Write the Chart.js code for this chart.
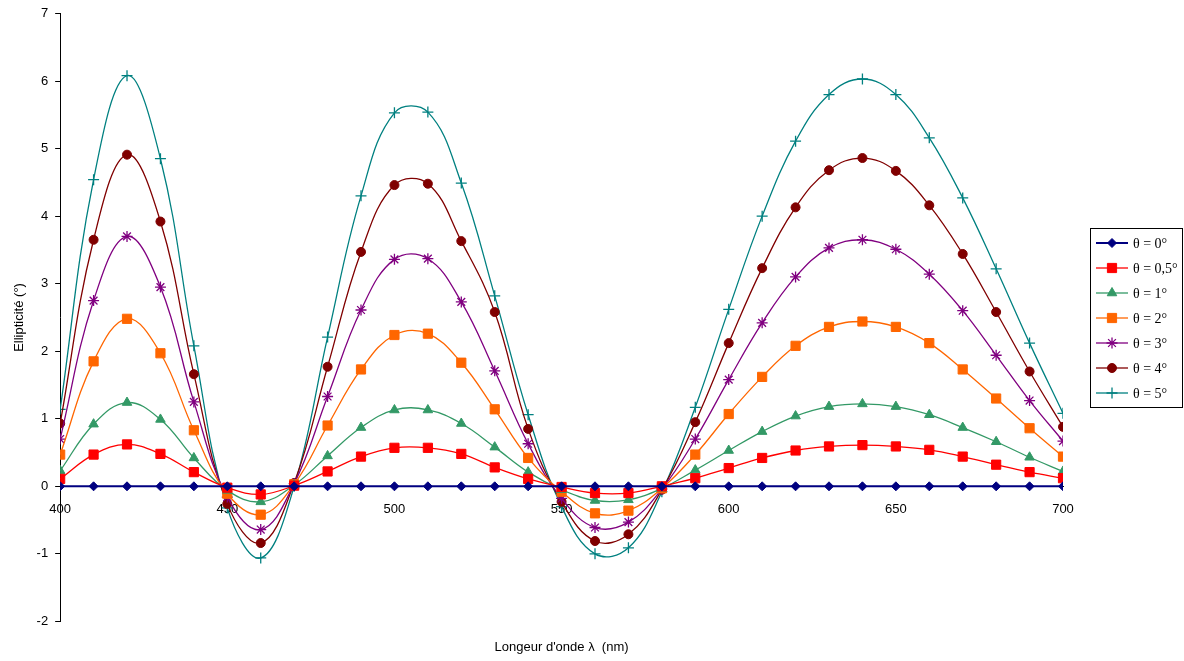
<!DOCTYPE html>
<html>
<head>
<meta charset="utf-8">
<script src="https://cdn.jsdelivr.net/npm/chart.js@4.4.1/dist/chart.umd.min.js"></script>
<style>
  html, body { margin: 0; padding: 0; background: #fff; }
  #wrap { width: 1184px; height: 661px; }
</style>
</head>
<body>
<div id="wrap"><canvas id="chartEllipticite" width="1184" height="661"></canvas></div>
<script>
// Longueurs d'onde (nm)
const longueurs = [400, 410, 420, 430, 440, 450, 460, 470, 480, 490, 500, 510, 520, 530, 540, 550,
    560, 570, 580, 590, 600, 610, 620, 630, 640, 650, 660, 670, 680, 690, 700];

// Ellipticité (°) pour chaque angle theta
const ellipTheta0 = [0, 0, 0, 0, 0, 0, 0, 0, 0, 0, 0, 0, 0, 0, 0, 0,
    0, 0, 0, 0, 0, 0, 0, 0, 0, 0, 0, 0, 0, 0, 0];
const ellipTheta05 = [0.11, 0.47, 0.62, 0.48, 0.21, -0.02, -0.12, 0.01, 0.22, 0.44, 0.57, 0.57, 0.48, 0.28, 0.11, -0.01,
    -0.10, -0.10, 0.00, 0.12, 0.27, 0.42, 0.53, 0.59, 0.61, 0.59, 0.54, 0.44, 0.32, 0.21, 0.12];
const ellipTheta1 = [0.23, 0.92, 1.24, 0.99, 0.42, -0.06, -0.23, 0.02, 0.45, 0.87, 1.13, 1.13, 0.93, 0.58, 0.21, -0.05,
    -0.21, -0.20, -0.03, 0.24, 0.53, 0.81, 1.04, 1.18, 1.22, 1.18, 1.06, 0.87, 0.66, 0.43, 0.22];
const ellipTheta2 = [0.47, 1.85, 2.48, 1.97, 0.83, -0.11, -0.42, 0.03, 0.90, 1.73, 2.24, 2.26, 1.83, 1.14, 0.42, -0.08,
    -0.40, -0.36, -0.03, 0.47, 1.07, 1.62, 2.08, 2.36, 2.44, 2.36, 2.12, 1.73, 1.30, 0.86, 0.44];
const ellipTheta3 = [0.70, 2.75, 3.70, 2.95, 1.25, -0.16, -0.64, 0.04, 1.33, 2.61, 3.36, 3.37, 2.73, 1.71, 0.63, -0.18,
    -0.61, -0.53, -0.04, 0.70, 1.58, 2.42, 3.10, 3.53, 3.65, 3.51, 3.14, 2.60, 1.94, 1.27, 0.67];
const ellipTheta4 = [0.93, 3.65, 4.91, 3.92, 1.66, -0.26, -0.84, 0.05, 1.77, 3.47, 4.46, 4.48, 3.63, 2.58, 0.85, -0.23,
    -0.81, -0.71, -0.05, 0.95, 2.12, 3.23, 4.13, 4.68, 4.86, 4.67, 4.16, 3.44, 2.58, 1.70, 0.88];
const ellipTheta5 = [1.14, 4.54, 6.08, 4.85, 2.08, -0.32, -1.06, 0.00, 2.21, 4.30, 5.53, 5.54, 4.49, 2.82, 1.06, -0.30,
    -1.00, -0.91, -0.08, 1.17, 2.62, 4.00, 5.11, 5.80, 6.03, 5.80, 5.16, 4.27, 3.22, 2.12, 1.08];

const nomsSeries = ['θ = 0°', 'θ = 0,5°', 'θ = 1°', 'θ = 2°', 'θ = 3°', 'θ = 4°', 'θ = 5°'];
const valeursSeries = [ellipTheta0, ellipTheta05, ellipTheta1, ellipTheta2, ellipTheta3, ellipTheta4, ellipTheta5];

// Style de chaque courbe (couleur, marqueur, taille)
const stylesSeries = [
    { couleur: '#000080', marqueur: 'rectRot', rayon: 4.5, epaisseur: 2 },
    { couleur: '#FF0000', marqueur: 'rect', rayon: 6.5, epaisseur: 1.3 },
    { couleur: '#339966', marqueur: 'triangle', rayon: 5.5, epaisseur: 1.3 },
    { couleur: '#FF6600', marqueur: 'rect', rayon: 6.5, epaisseur: 1.3 },
    { couleur: '#800080', marqueur: 'star', rayon: 5.5, epaisseur: 1.3 },
    { couleur: '#800000', marqueur: 'circle', rayon: 4.5, epaisseur: 1.3 },
    { couleur: '#008080', marqueur: 'cross', rayon: 5.5, epaisseur: 1.3 }
];

const datasets = valeursSeries.map(function(vals, i) {
    const s = stylesSeries[i];
    return {
        label: nomsSeries[i],
        data: longueurs.map((x, k) => ({ x: x, y: vals[k] })),
        borderColor: s.couleur,
        backgroundColor: s.couleur,
        pointBackgroundColor: s.couleur,
        pointBorderColor: s.couleur,
        pointBorderWidth: (s.marqueur === 'star' || s.marqueur === 'cross') ? 1.3 : 1,
        pointStyle: s.marqueur,
        pointRadius: s.rayon,
        borderWidth: s.epaisseur,
        tension: 0.4,
        fill: false
    };
});

// Légende encadrée comme dans Excel (trait + marqueur + texte)
const legendeEncadree = {
    id: 'legendeEncadree',
    afterDraw(chart) {
        const ctx = chart.ctx;
        const area = chart.chartArea;
        const n = chart.data.datasets.length;
        const rowH = 25, boxW = 92, boxH = n * rowH + 4;
        const left = Math.round(area.right) + 27;
        const top = Math.round((area.top + area.bottom - boxH) / 2);
        ctx.save();
        ctx.strokeStyle = '#000';
        ctx.lineWidth = 1;
        ctx.strokeRect(left + 0.5, top + 0.5, boxW, boxH);
        ctx.font = '14px "Liberation Serif", "Times New Roman", serif';
        ctx.textBaseline = 'middle';
        chart.data.datasets.forEach(function(ds, i) {
            const y = top + 15 + i * rowH;
            ctx.strokeStyle = ds.borderColor;
            ctx.lineWidth = ds.borderWidth;
            ctx.beginPath();
            ctx.moveTo(left + 6, y);
            ctx.lineTo(left + 38, y);
            ctx.stroke();
            if (Chart.helpers && Chart.helpers.drawPoint) {
                ctx.fillStyle = ds.pointBackgroundColor;
                ctx.strokeStyle = ds.pointBorderColor;
                ctx.lineWidth = ds.pointBorderWidth;
                Chart.helpers.drawPoint(ctx, {
                    pointStyle: ds.pointStyle, radius: ds.pointRadius, rotation: 0, borderWidth: ds.pointBorderWidth
                }, left + 22, y);
            }
            ctx.fillStyle = '#000';
            ctx.fillText(ds.label, left + 43, y + 1);
        });
        ctx.restore();
    }
};

const policeAxe = { family: '"Liberation Sans", Arial, sans-serif', size: 13 };

var ctx = document.getElementById('chartEllipticite').getContext('2d');
new Chart(ctx, {
    type: 'line',
    data: { datasets: datasets },
    plugins: [legendeEncadree],
    options: {
        responsive: false,
        animation: false,
        layout: { padding: { left: 8, right: 121, top: 0, bottom: 0 } },
        plugins: {
            legend: { display: false },
            tooltip: { enabled: false },
            title: {
                display: true,
                position: 'bottom',
                fullSize: false,
                text: "Longeur d'onde λ  (nm)",
                color: '#000',
                font: { family: '"Liberation Sans", Arial, sans-serif', size: 13, weight: 'normal' },
                padding: { top: 18, bottom: 6 }
            }
        },
        scales: {
            x: {
                type: 'linear',
                position: { y: 0 },
                min: 400,
                max: 700,
                border: { display: true, color: '#000', width: 1 },
                grid: { display: false, drawTicks: false },
                ticks: { stepSize: 50, color: '#000', font: policeAxe, padding: 15, maxRotation: 0 }
            },
            y: {
                type: 'linear',
                min: -2,
                max: 7,
                border: { display: true, color: '#000', width: 1 },
                grid: { drawOnChartArea: false, drawTicks: true, tickLength: 5, color: '#000' },
                ticks: { stepSize: 1, color: '#000', font: { family: policeAxe.family, size: 13, lineHeight: 1 }, padding: 7 },
                title: {
                    display: true,
                    text: 'Ellipticité (°)',
                    color: '#000',
                    font: policeAxe,
                    padding: { top: 4, bottom: 2 }
                }
            }
        }
    }
});
</script>
</body>
</html>
